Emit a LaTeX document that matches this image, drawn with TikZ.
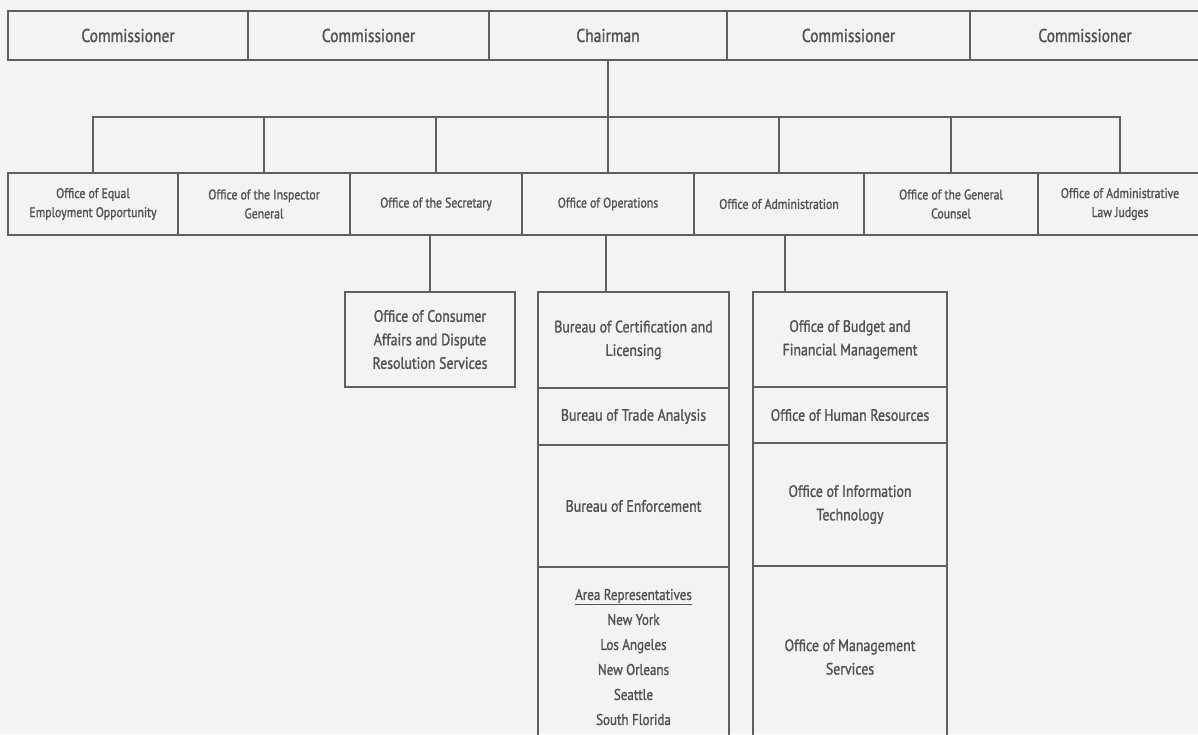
\documentclass[tikz,border=0pt]{standalone}
\usepackage{fontspec}
\setmainfont{PT Sans}[FakeStretch=0.84,FakeBold=1.3]
\definecolor{bgc}{RGB}{243,243,242}
\definecolor{linec}{RGB}{95,95,95}
\definecolor{textc}{RGB}{82,82,82}
\tikzset{
  boxbase/.style={draw=linec, line width=1.8pt, text=textc, align=center, inner sep=2pt, anchor=center},
  topbox/.style={boxbase, minimum height=49pt, font=\fontsize{18.5}{21}\selectfont},
  midbox/.style={boxbase, minimum height=62pt, font=\fontsize{14}{19}\selectfont},
  lowbox/.style={boxbase, font=\fontsize{16.5}{23.5}\selectfont},
  conn/.style={draw=linec, line width=1.8pt}
}
\begin{document}
\begin{tikzpicture}[x=1pt,y=-1pt]
\useasboundingbox (0,0) rectangle (1198,734);
\fill[bgc] (0,0) rectangle (1198,734);
\clip (0,0) rectangle (1198,734);
% top row
\node[topbox, minimum width=240pt] (c1) at (128,35.5) {Commissioner};
\node[topbox, minimum width=241pt] (c2) at (368.5,35.5) {Commissioner};
\node[topbox, minimum width=238pt] (ch) at (608,35.5) {Chairman};
\node[topbox, minimum width=243pt] (c3) at (848.5,35.5) {Commissioner};
\node[topbox, minimum width=230pt] (c4) at (1085,35.5) {Commissioner};
% middle row
\node[midbox, minimum width=170pt] (m1) at (93,204) {Office of Equal\\Employment Opportunity};
\node[midbox, minimum width=172pt] (m2) at (264,204) {Office of the Inspector\\General};
\node[midbox, minimum width=172pt] (m3) at (436,204) {Office of the Secretary};
\node[midbox, minimum width=172pt] (m4) at (608,204) {Office of Operations};
\node[midbox, minimum width=170pt] (m5) at (779,204) {Office of Administration};
\node[midbox, minimum width=174pt] (m6) at (951,204) {Office of the General\\Counsel};
\node[midbox, minimum width=164pt] (m7) at (1120,204) {Office of Administrative\\Law Judges};
% bus
\coordinate (bus) at (0,117);
\draw[conn] (ch.south) -- (ch.south |- bus);
\draw[conn] (m1.north) |- (bus -| m7.north) -- (m7.north);
\foreach \n in {m2,m3,m4,m5,m6} \draw[conn] (\n.north) -- (\n.north |- bus);
% consumer box
\node[lowbox, minimum width=170pt, minimum height=95pt] (cons) at (430,339.5) {Office of Consumer\\Affairs and Dispute\\Resolution Services};
% operations column
\node[lowbox, minimum width=191pt, minimum height=96pt] (o1) at (633.5,340) {Bureau of Certification and\\Licensing};
\node[lowbox, minimum width=191pt, minimum height=57pt] (o2) at (633.5,416.5) {Bureau of Trade Analysis};
\node[lowbox, minimum width=191pt, minimum height=122pt] (o3) at (633.5,506) {Bureau of Enforcement};
\node[lowbox, minimum width=191pt, minimum height=180pt, font=\fontsize{15.5}{25}\selectfont] (o4) at (633.5,657) {\underline{Area Representatives}\\New York\\Los Angeles\\New Orleans\\Seattle\\South Florida};
% administration column
\node[lowbox, minimum width=194pt, minimum height=95pt] (a1) at (850,339.5) {Office of Budget and\\Financial Management};
\node[lowbox, minimum width=194pt, minimum height=56pt] (a2) at (850,415) {Office of Human Resources};
\node[lowbox, minimum width=194pt, minimum height=123pt] (a3) at (850,504.5) {Office of Information\\Technology};
\node[lowbox, minimum width=194pt, minimum height=182pt] (a4) at (850,657) {Office of Management\\Services};
% drops
\draw[conn] (cons.north) -- (cons.north |- m3.south);
\draw[conn] (m4.south -| 606,0) -- (606,0 |- o1.north);
\draw[conn] (m5.south -| 785,0) -- (785,0 |- a1.north);
\end{tikzpicture}
\end{document}
